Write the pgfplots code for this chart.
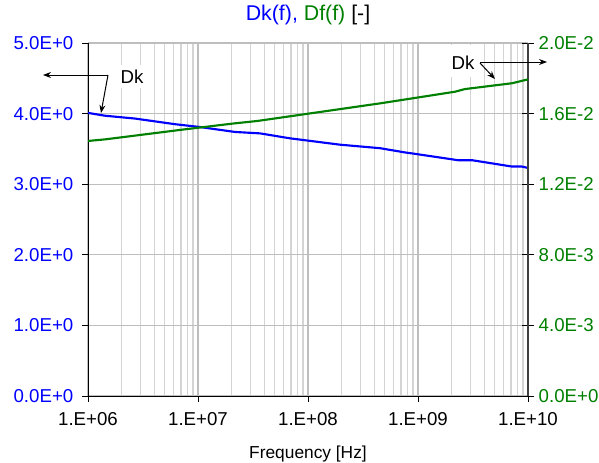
\documentclass[border=0pt]{standalone}
\usepackage{fontspec}
\setmainfont{Liberation Sans}
\usepackage{pgfplots}
\pgfplotsset{compat=1.18}
\usetikzlibrary{arrows.meta}
\definecolor{dkblue}{RGB}{0,0,255}
\definecolor{dfgreen}{RGB}{0,128,0}
\definecolor{gridgray}{RGB}{190,190,190}
\definecolor{minorgray}{RGB}{212,212,212}
\definecolor{axisdark}{RGB}{64,64,64}

\begin{document}
\begin{tikzpicture}
\pgfplotsset{
  every axis/.append style={
    xmode=log, xmin=1e6, xmax=1e10,
    width=330pt, height=264.75pt, scale only axis,
    at={(0,0)}, anchor=south west,
    font=\fontsize{14}{16}\selectfont,
    tick align=outside,
    major tick length=4.5pt,
    minor tick length=0pt,
    scaled y ticks=false,
  }
}
\begin{axis}[
  ymin=0, ymax=5,
  axis x line*=bottom, axis y line*=left,
  axis line style={black, line width=0.75pt},
  tick style={black, line width=0.75pt},
  xtick={1e6,1e7,1e8,1e9,1e10},
  xticklabels={1.E+06,1.E+07,1.E+08,1.E+09,1.E+10},
  minor xtick={2e6,3e6,4e6,5e6,6e6,7e6,8e6,9e6,
               2e7,3e7,4e7,5e7,6e7,7e7,8e7,9e7,
               2e8,3e8,4e8,5e8,6e8,7e8,8e8,9e8,
               2e9,3e9,4e9,5e9,6e9,7e9,8e9,9e9},
  ytick={0,1,2,3,4,5},
  yticklabels={0.0E+0,1.0E+0,2.0E+0,3.0E+0,4.0E+0,5.0E+0},
  yticklabel style={text=dkblue, xshift=-3pt},
  xticklabel style={yshift=-4pt},
  xmajorgrids, xminorgrids, ymajorgrids,
  major grid style={draw=gridgray, line width=0.9pt},
  minor grid style={draw=minorgray, line width=0.9pt},
  xlabel={Frequency [Hz]},
  xlabel style={at={(0.5,0)}, anchor=base, yshift=-46.5pt, font=\fontsize{13}{15}\selectfont},
  title={\textcolor{dkblue}{Dk(f),} \textcolor{dfgreen}{Df(f)} [-]},
  title style={at={(0.5,1)}, anchor=base, yshift=11.25pt, font=\fontsize{16}{18}\selectfont},
]
\addplot[dkblue, line width=1.6pt] coordinates {
  (1e6,4.01) (1.43e6,3.97) (2.67e6,3.93) (6.18e6,3.85) (1.04e7,3.81)
  (2.17e7,3.74) (3.66e7,3.72) (6.85e7,3.65) (1.95e8,3.56) (4.52e8,3.51)
  (7.62e8,3.45) (9.4e8,3.43) (2.31e9,3.34) (3.10e9,3.34) (7.16e9,3.25)
  (8.81e9,3.25) (1e10,3.23)
};
\end{axis}
\begin{axis}[
  ymin=0, ymax=0.02,
  axis x line=none, axis y line*=right,
  axis line style={axisdark, line width=0.9pt},
  ytick align=center,
  major tick length=9pt,
  tick style={black, line width=0.75pt},
  ytick={0,0.004,0.008,0.012,0.016,0.02},
  yticklabels={0.0E+0,4.0E-3,8.0E-3,1.2E-2,1.6E-2,2.0E-2},
  yticklabel style={text=dfgreen},
]
\addplot[dfgreen, line width=1.6pt] coordinates {
  (1e6,0.01445) (1.43e6,0.01454) (7.62e6,0.01511) (2.17e7,0.01545)
  (3.44e7,0.01558) (4.52e8,0.01658) (2.17e9,0.01724) (2.67e9,0.01739)
  (7.16e9,0.01772) (1e10,0.01794)
};
\end{axis}
\begin{scope}[x=0.75pt, y=-0.75pt, shift={(-66pt,297pt)}]
  \fill[white] (110,65) rectangle (152,88);
  \node[font=\fontsize{14}{16}\selectfont] at (132,77) {Dk};
  \draw[line width=0.75pt, -{Stealth[length=6pt,width=4.5pt]}] (108,75) -- (43,75);
  \draw[line width=0.75pt, -{Stealth[length=6pt,width=4.5pt]}] (108,75) -- (101,113);
  \fill[white] (445,45) rectangle (480,77);
  \node[font=\fontsize{14}{16}\selectfont] at (463,63) {Dk};
  \draw[line width=0.75pt, -{Stealth[length=6pt,width=4.5pt]}] (480,62) -- (547,62);
  \draw[line width=0.75pt, -{Stealth[length=6pt,width=4.5pt]}] (480,63) -- (495,79);
  \pgfresetboundingbox
  \useasboundingbox (0,0) rectangle (599,462);
\end{scope}
\end{tikzpicture}
\end{document}
